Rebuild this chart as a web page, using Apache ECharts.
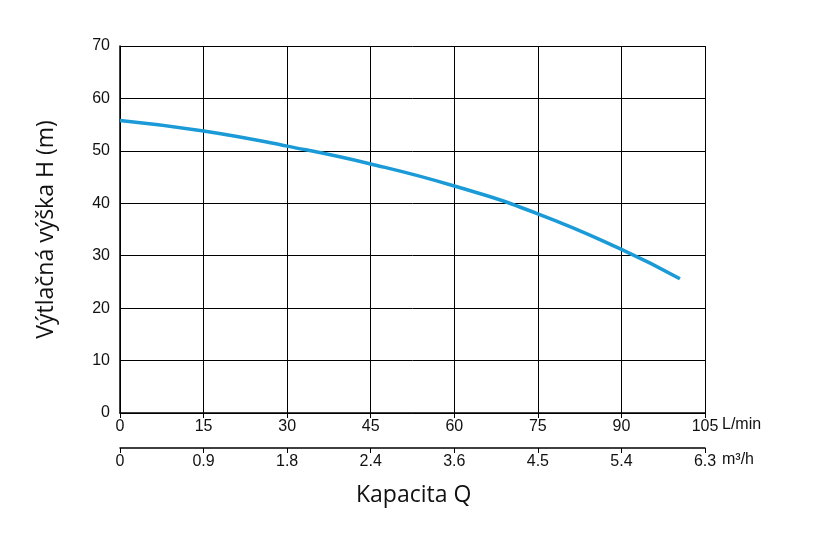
<!DOCTYPE html>
<html><head><meta charset="utf-8">
<script src="https://cdn.jsdelivr.net/npm/echarts@6/dist/echarts.min.js"></script>
<style>html,body{margin:0;padding:0;background:#fff}#c{width:823px;height:539px}</style>
</head><body><div id="c"></div>
<script>
const flowLmin = [0, 15, 30, 45, 60, 75, 90, 100.5];
const headM = [55.8, 53.8, 50.9, 47.5, 43.3, 38.0, 31.2, 25.6];
const m3hLabels = ['0', '0.9', '1.8', '2.4', '3.6', '4.5', '5.4', '6.3'];
const yTicks = [0, 10, 20, 30, 40, 50, 60, 70];

const chart = echarts.init(document.getElementById('c'));
const axisCommon = {
  type: 'value', min: 0, max: 105, interval: 15, position: 'bottom',
  axisLine: {show: true, onZero: false, lineStyle: {color: '#000', width: 1.5}},
  axisTick: {show: true, inside: false, length: 5, lineStyle: {color: '#000'}},
  axisLabel: {color: '#111', fontSize: 16, fontFamily: 'Liberation Sans', margin: 6}
};
chart.setOption({
  animation: false,
  grid: {left: 120, right: 118, top: 46, bottom: 126, containLabel: false},
  xAxis: [
    Object.assign({}, axisCommon, {splitLine: {show: true, lineStyle: {color: '#000', width: 1}}}),
    Object.assign({}, axisCommon, {offset: 35, splitLine: {show: false},
      axisLabel: Object.assign({}, axisCommon.axisLabel, {formatter: v => m3hLabels[Math.round(v / 15)]})})
  ],
  yAxis: {
    type: 'value', min: 0, max: 70, interval: 10,
    axisLine: {show: true, lineStyle: {color: '#000', width: 1.5}},
    axisTick: {show: false},
    axisLabel: {color: '#111', fontSize: 16, fontFamily: 'Liberation Sans', margin: 10,
      formatter: v => yTicks.includes(v) ? String(v) : ''},
    splitLine: {show: true, lineStyle: {color: '#000', width: 1}},
    name: 'Výtlačná výška H (m)', nameLocation: 'middle', nameGap: 62, nameRotate: 90,
    nameTextStyle: {color: '#111', fontSize: 23, fontFamily: 'Open Sans'}
  },
  graphic: [
    {type: 'text', left: 722, top: 417, style: {text: 'L/min', fontSize: 16, fill: '#111', fontFamily: 'Liberation Sans'}},
    {type: 'text', left: 722, top: 452, style: {text: 'm³/h', fontSize: 16, fill: '#111', fontFamily: 'Liberation Sans'}},
    {type: 'text', left: 356, top: 484, style: {text: 'Kapacita Q', fontSize: 23, fill: '#111', fontFamily: 'Open Sans'}}
  ],
  series: [{
    type: 'line', smooth: true, symbol: 'none', xAxisIndex: 0,
    lineStyle: {color: '#1a9ad6', width: 3.5},
    data: flowLmin.map((x, i) => [x, headM[i]])
  }]
});
</script></body></html>
